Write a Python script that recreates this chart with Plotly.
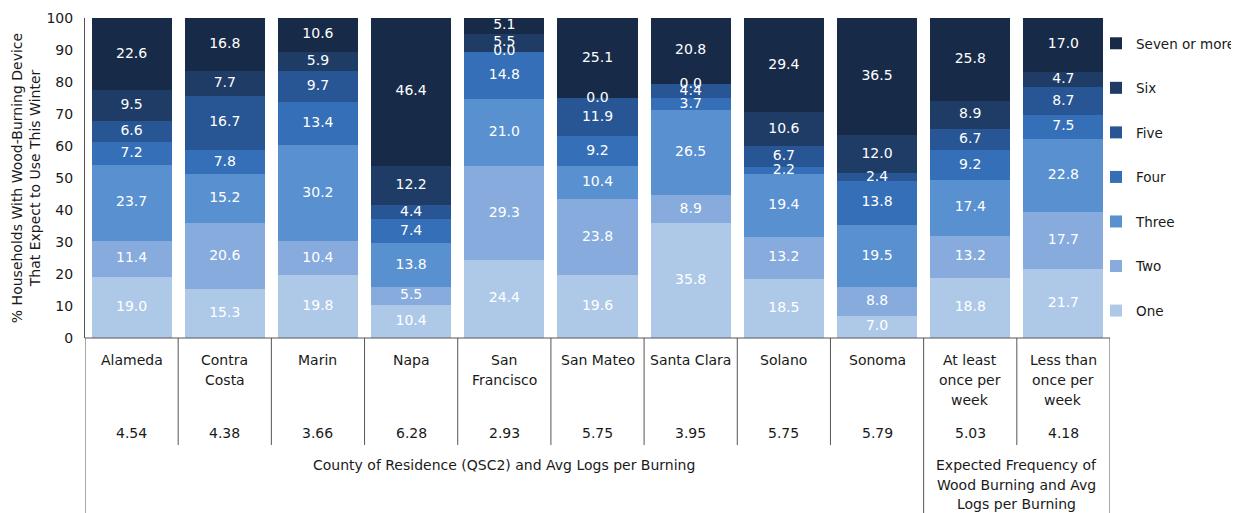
import plotly.graph_objects as go

categories = ["Alameda", "Contra<br>Costa", "Marin", "Napa", "San<br>Francisco", "San Mateo",
              "Santa Clara", "Solano", "Sonoma", "At least<br>once per<br>week", "Less than<br>once per<br>week"]
avg_logs = ["4.54", "4.38", "3.66", "6.28", "2.93", "5.75", "3.95", "5.75", "5.79", "5.03", "4.18"]

series_names = ["One", "Two", "Three", "Four", "Five", "Six", "Seven or more"]
one   = [19.0, 15.3, 19.8, 10.4, 24.4, 19.6, 35.8, 18.5, 7.0, 18.8, 21.7]
two   = [11.4, 20.6, 10.4, 5.5, 29.3, 23.8, 8.9, 13.2, 8.8, 13.2, 17.7]
three = [23.7, 15.2, 30.2, 13.8, 21.0, 10.4, 26.5, 19.4, 19.5, 17.4, 22.8]
four  = [7.2, 7.8, 13.4, 7.4, 14.8, 9.2, 3.7, 2.2, 13.8, 9.2, 7.5]
five  = [6.6, 16.7, 9.7, 4.4, 0.0, 11.9, 4.4, 6.7, 2.4, 6.7, 8.7]
six   = [9.5, 7.7, 5.9, 12.2, 5.5, 0.0, 0.0, 10.6, 12.0, 8.9, 4.7]
seven = [22.6, 16.8, 10.6, 46.4, 5.1, 25.1, 20.8, 29.4, 36.5, 25.8, 17.0]
series_values = [one, two, three, four, five, six, seven]

group_labels = ["County of Residence (QSC2) and Avg Logs per Burning",
                "Expected Frequency of<br>Wood Burning and Avg<br>Logs per Burning"]
group_spans = [(0, 8), (9, 10)]

y_ticks = [0, 10, 20, 30, 40, 50, 60, 70, 80, 90, 100]

colors = ["#aec9e8", "#86abdc", "#5990d0", "#346fb7", "#285593", "#1e3c66", "#172b49"]

FONT = "DejaVu Sans"
FS = 14
TXT = "#1a1a1a"

# page has an 8px body margin; plot area in page pixels: x 85..1110, y 18..338
OFF = 8
W, H = 1239 - OFF, 513 - OFF
PL, PR, PT, PB = 85, 1110, 18, 338
ML, MT = PL - OFF, PT - OFF
MR = W - (PR - OFF)
MB = H - (PB - OFF)
PH = PB - PT
PW = PR - PL

x = list(range(len(categories)))
n = len(categories)

fig = go.Figure()
for k, (name, vals, col) in enumerate(zip(series_names, series_values, colors)):
    fig.add_trace(go.Bar(
        x=x, y=vals, name=name, marker=dict(color=col, line=dict(width=0)),
        legendgroup=name, legendrank=len(series_names) - k, hoverinfo="name+y",
    ))

# value labels at segment midpoints
lx, ly, lt = [], [], []
base = [0.0] * n
for vals in series_values:
    for i, v in enumerate(vals):
        lx.append(i)
        ly.append(base[i] + v / 2)
        lt.append(f"{v:.1f}")
        base[i] += v
fig.add_trace(go.Scatter(x=lx, y=ly, text=lt, mode="text", showlegend=False,
                         hoverinfo="skip", cliponaxis=False,
                         textfont=dict(color="white", size=FS, family=FONT)))

def py_to_paper(py):
    return (PB - py) / PH

annotations = []
shapes = []
for i, lab in enumerate(categories):
    for k, line in enumerate(lab.split("<br>")):
        annotations.append(dict(x=i, y=py_to_paper(360 + 20 * k), xref="x", yref="paper",
                                text=line, showarrow=False, yanchor="middle",
                                font=dict(size=FS, family=FONT, color=TXT)))
    annotations.append(dict(x=i, y=py_to_paper(433), xref="x", yref="paper",
                            text=avg_logs[i], showarrow=False, yanchor="middle",
                            font=dict(size=FS, family=FONT, color=TXT)))
for lab, (a, b) in zip(group_labels, group_spans):
    for k, line in enumerate(lab.split("<br>")):
        annotations.append(dict(x=(a + b) / 2, y=py_to_paper(465 + 19.5 * k), xref="x", yref="paper",
                                text=line, showarrow=False, yanchor="middle",
                                font=dict(size=FS, family=FONT, color=TXT)))

line_style = dict(color="#555555", width=1)
shapes.append(dict(type="line", xref="x", yref="paper", x0=-0.5, x1=n - 0.5, y0=0, y1=0, line=line_style))
group_edges = {-0.5, 8.5, n - 0.5}
for i in range(n + 1):
    xb = i - 0.5
    y1 = py_to_paper(520) if xb in group_edges else py_to_paper(445)
    shapes.append(dict(type="line", xref="x", yref="paper", x0=xb, x1=xb, y0=0, y1=y1, line=line_style))

fig.update_layout(
    width=W, height=H,
    margin=dict(l=ML, r=MR, t=MT, b=MB, autoexpand=False),
    barmode="stack", bargap=0.14,
    plot_bgcolor="white", paper_bgcolor="white",
    font=dict(family=FONT, size=FS, color=TXT),
    showlegend=True,
    xaxis=dict(range=[-0.5, n - 0.5], showticklabels=False, showgrid=False,
               zeroline=False, showline=False, ticks=""),
    yaxis=dict(range=[0, 100], tickvals=y_ticks, showgrid=False, zeroline=False,
               showline=True, linecolor="#555555", linewidth=1, ticks="",
               ticklabelstandoff=8,
               title=dict(text="% Households With Wood-Burning Device<br>That Expect to Use This Winter",
                          font=dict(size=FS, family=FONT, color=TXT), standoff=2),
               tickfont=dict(size=FS, family=FONT, color=TXT)),
    legend=dict(traceorder="grouped", x=(1096 - PL) / PW, xanchor="left",
                y=py_to_paper(28), yanchor="top",
                tracegroupgap=24, font=dict(size=13.5, family=FONT, color=TXT),
                itemwidth=30, bgcolor="rgba(0,0,0,0)"),
    annotations=annotations, shapes=shapes,
)

fig.write_html("out.html")
